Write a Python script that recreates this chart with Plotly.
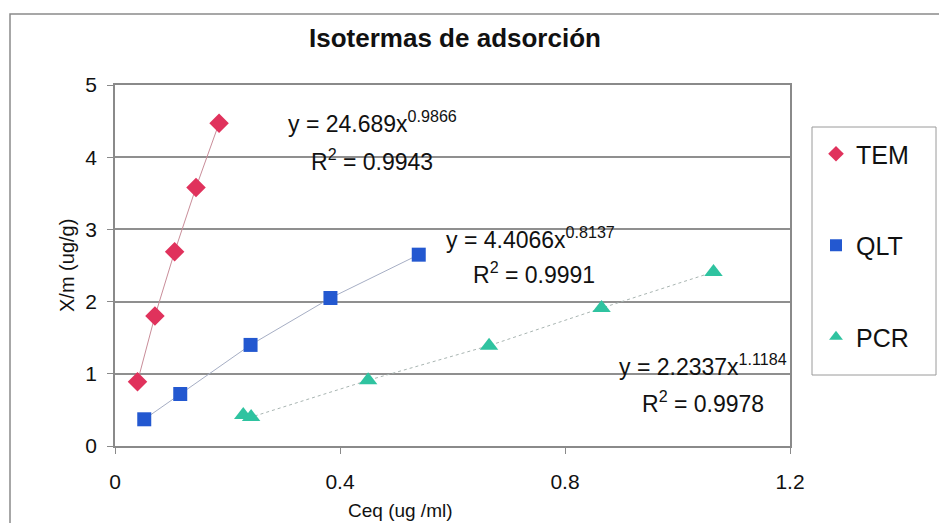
import plotly.graph_objects as go

# ---- data ----
tem_x = [0.040, 0.071, 0.106, 0.144, 0.185]
tem_y = [0.89, 1.80, 2.69, 3.58, 4.47]
qlt_x = [0.052, 0.116, 0.241, 0.383, 0.540]
qlt_y = [0.37, 0.72, 1.40, 2.05, 2.65]
pcr_x = [0.228, 0.242, 0.450, 0.665, 0.865, 1.064]
pcr_y = [0.43, 0.40, 0.91, 1.39, 1.91, 2.41]

series_names = ["TEM", "QLT", "PCR"]
eq_texts = ["y = 24.689x<sup>0.9866</sup>", "y = 4.4066x<sup>0.8137</sup>", "y = 2.2337x<sup>1.1184</sup>"]
r2_texts = ["R<sup>2</sup> = 0.9943", "R<sup>2</sup> = 0.9991", "R<sup>2</sup> = 0.9978"]
eq_pos = [(0.457, 4.49), (0.738, 2.88), (1.045, 1.12)]
r2_pos = [(0.457, 3.96), (0.745, 2.40), (1.045, 0.61)]
x_ticks = [0, 0.4, 0.8, 1.2]
y_ticks = [0, 1, 2, 3, 4, 5]

FONT = "Arial, Liberation Sans, sans-serif"
W, H = 939, 523
L, R, T, B = 115, 790, 85, 446  # plot area in pixels


def px(xp):
    return (xp - L) / (R - L)


def py(yp):
    return (B - yp) / (B - T)


series = [
    (tem_x, tem_y, "#c98d99", "solid", "diamond", 15, "#e0325c"),
    (qlt_x, qlt_y, "#a6aec4", "solid", "square", 14, "#2358d0"),
    (pcr_x, pcr_y, "#a9b5b2", "dot", "triangle-up", 16, "#2fc3a0"),
]

fig = go.Figure()
# connecting (trend) lines, not in legend
for xs, ys, lc, dash, *_ in series:
    fig.add_trace(go.Scatter(x=xs, y=ys, mode="lines", showlegend=False, hoverinfo="skip",
                             line=dict(color=lc, width=1, dash=dash)))
# markers, in legend
for i, (xs, ys, lc, dash, sym, sz, mc) in enumerate(series):
    fig.add_trace(go.Scatter(x=xs, y=ys, name=series_names[i], mode="markers",
                             legendgroup=series_names[i],
                             marker=dict(symbol=sym, size=sz, color=mc)))

annotations = []
for (ex, ey), t in zip(eq_pos, eq_texts):
    annotations.append(dict(x=ex, y=ey, xref="x", yref="y", text=t, showarrow=False,
                            xanchor="center", yanchor="middle",
                            font=dict(family=FONT, size=23, color="#111")))
for (rx, ry), t in zip(r2_pos, r2_texts):
    annotations.append(dict(x=rx, y=ry, xref="x", yref="y", text=t, showarrow=False,
                            xanchor="center", yanchor="middle",
                            font=dict(family=FONT, size=23, color="#111")))
annotations.append(dict(x=px(67), y=py(266), xref="paper", yref="paper", text="X/m (ug/g)",
                        textangle=-90, showarrow=False, xanchor="center", yanchor="middle",
                        font=dict(family=FONT, size=20, color="#111")))
annotations.append(dict(x=px(400), y=py(510), xref="paper", yref="paper", text="Ceq (ug /ml)",
                        showarrow=False, xanchor="center", yanchor="middle",
                        font=dict(family=FONT, size=19, color="#111")))

shapes = [
    # outer chart frame
    dict(type="rect", xref="paper", yref="paper", x0=px(10), x1=px(960), y0=py(540), y1=py(14),
         line=dict(color="#8a8a8a", width=1.5), layer="below"),
    # legend frame
    dict(type="rect", xref="paper", yref="paper", x0=px(812), x1=px(936), y0=py(375), y1=py(127),
         line=dict(color="#9a9a9a", width=1), layer="below"),
]

fig.update_layout(
    width=W, height=H,
    margin=dict(l=L, r=W - R, t=T, b=H - B, autoexpand=False),
    paper_bgcolor="white", plot_bgcolor="white",
    title=dict(text="<b>Isotermas de adsorción</b>", x=455 / W, xref="container", xanchor="center",
               y=1 - 38 / H, yref="container", yanchor="middle",
               font=dict(family=FONT, size=26, color="#111")),
    font=dict(family=FONT, color="#111"),
    legend=dict(x=px(816), y=py(131), xanchor="left", yanchor="top", traceorder="grouped",
                tracegroupgap=56, font=dict(family=FONT, size=25, color="#111"),
                bgcolor="rgba(0,0,0,0)", borderwidth=0, itemsizing="constant"),
    annotations=annotations,
    shapes=shapes,
)
fig.update_xaxes(range=[0, 1.2], tickvals=x_ticks, ticktext=[f"{v:g}" for v in x_ticks],
                 showgrid=False, zeroline=False, showline=True, linecolor="#8a8a8a", linewidth=1.5,
                 mirror=True, ticks="outside", ticklen=6, tickcolor="#8a8a8a",
                 tickfont=dict(family=FONT, size=21, color="#111"), ticklabelstandoff=10)
fig.update_yaxes(range=[0, 5], tickvals=y_ticks, showgrid=True, gridcolor="#8f8f8f", gridwidth=1.5,
                 zeroline=False, showline=True, linecolor="#8a8a8a", linewidth=1.5, mirror=True,
                 ticks="outside", ticklen=6, tickcolor="#8a8a8a",
                 tickfont=dict(family=FONT, size=21, color="#111"), ticklabelstandoff=6)

fig.write_html("out.html")
